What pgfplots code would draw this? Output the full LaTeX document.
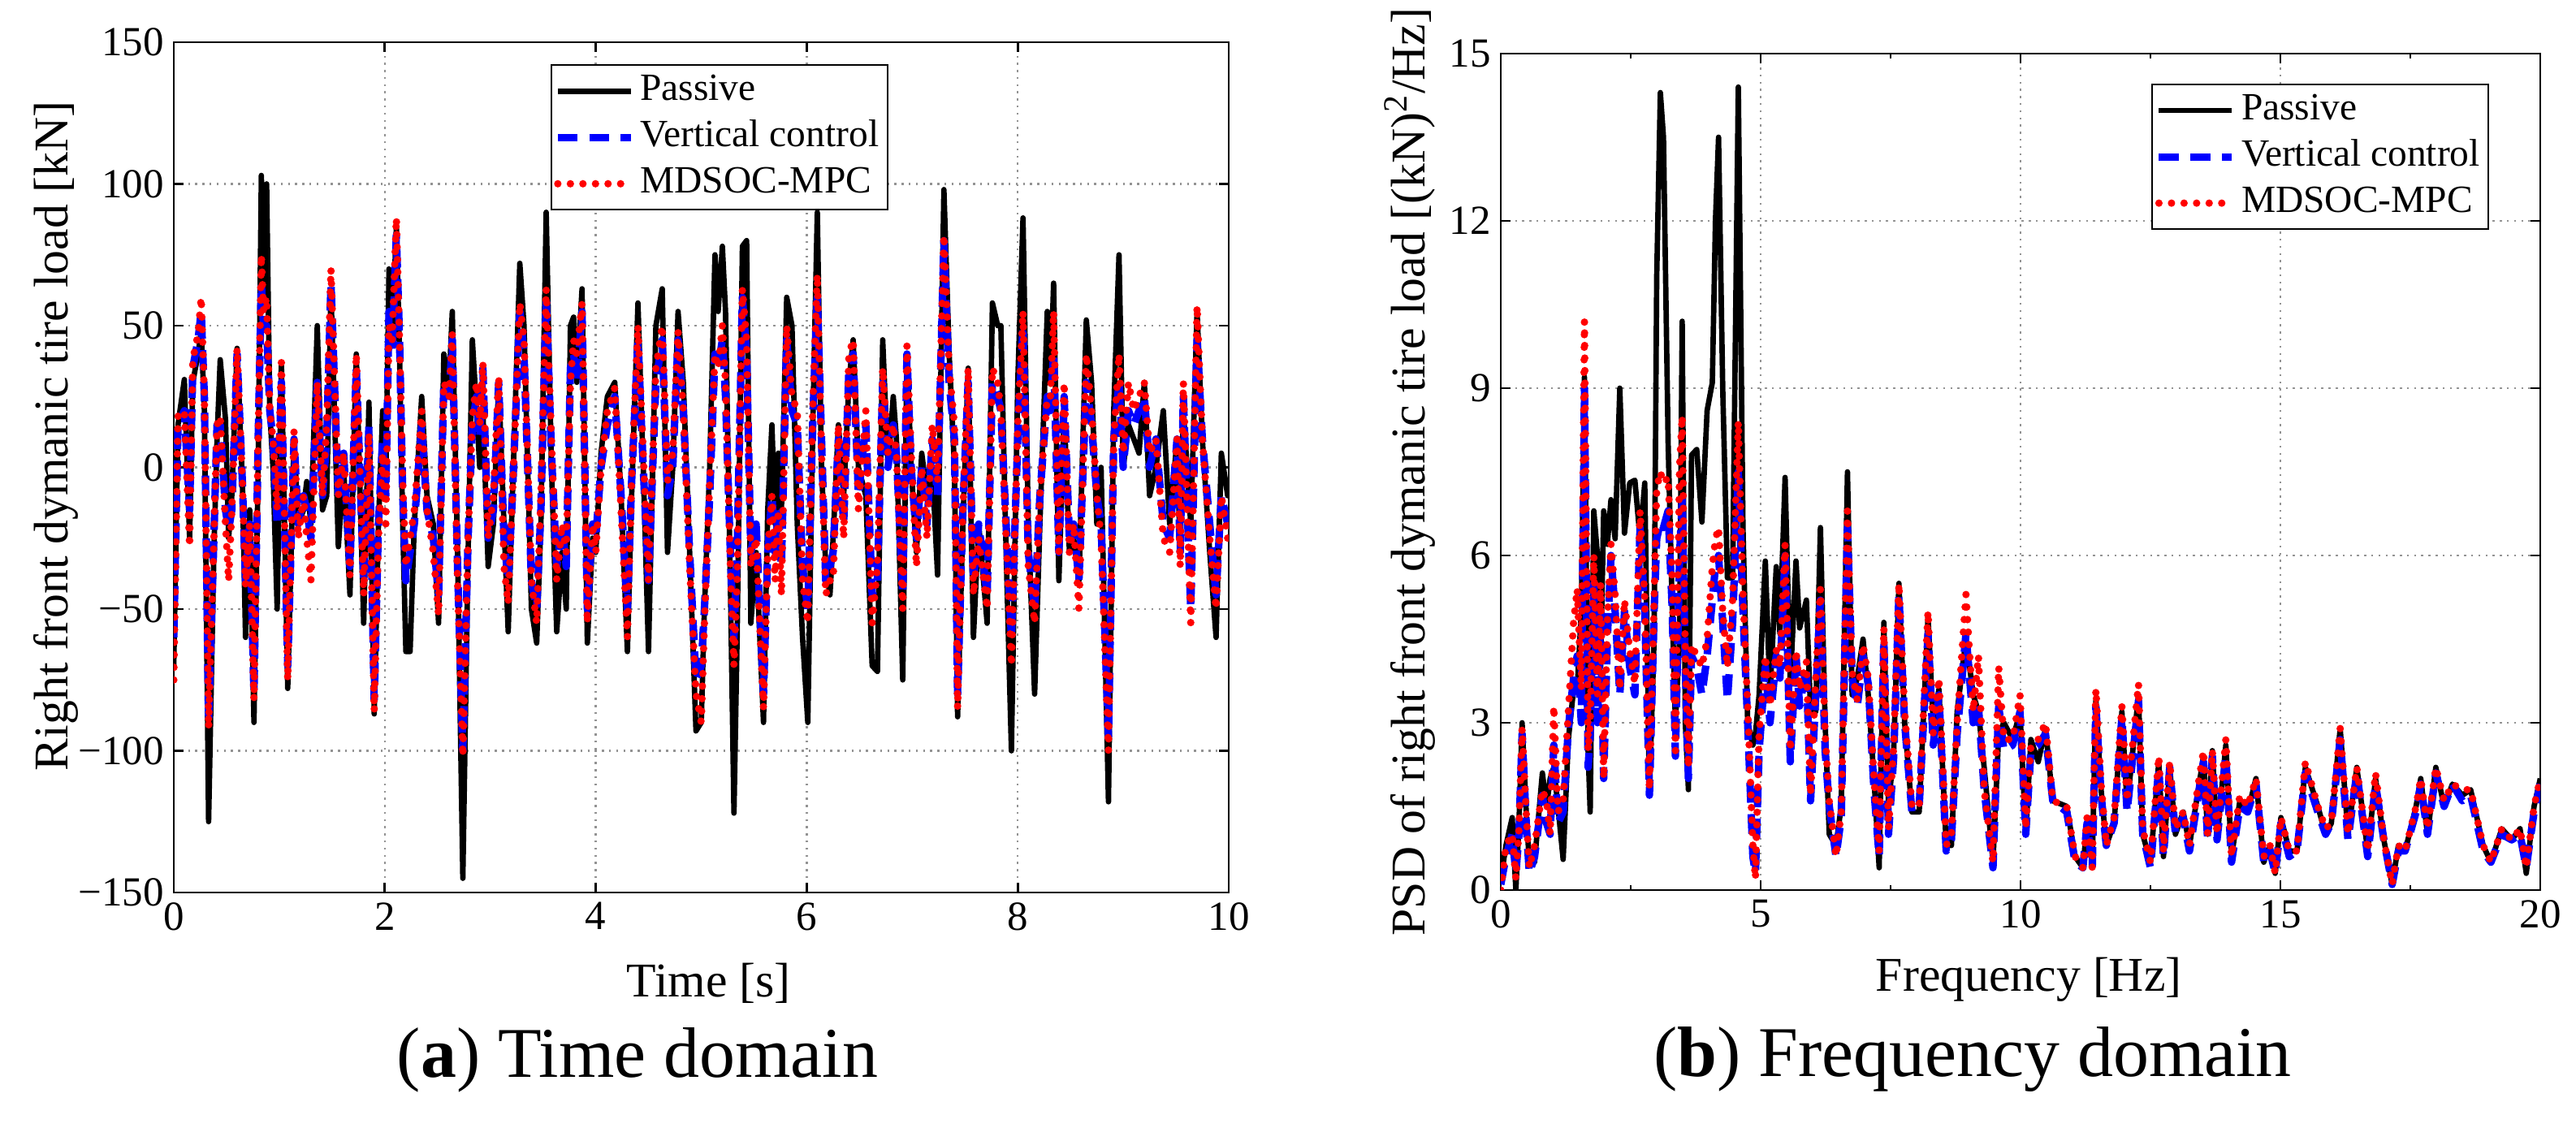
\documentclass[border=0pt]{standalone}
\usepackage{fontspec}
\setmainfont{Liberation Serif}
\usepackage{pgfplots}
\usepackage{pgfplotstable}
\pgfplotsset{compat=1.18}

\definecolor{vblue}{RGB}{0,0,255}
\definecolor{mred}{RGB}{255,0,0}

% time domain: t [s], passive, vertical control, MDSOC-MPC [kN]
\pgfplotstableread{
t pas ver mpc
0.00 -70 -60 -75
0.04 15 15 18
0.10 31 20 20
0.15 -25 -15 -28
0.18 30 35 38
0.23 40 45 47
0.26 48 55 60
0.29 20 25 25
0.33 -125 -90 -92
0.38 -30 -25 -25
0.41 10 15 15
0.44 38 15 18
0.49 17 -15 -20
0.52 -25 -22 -40
0.55 -10 -15 -15
0.60 42 40 42
0.65 -5 -5 -5
0.68 -60 -40 -42
0.72 -15 -20 -20
0.76 -90 -80 -82
0.80 0 10 10
0.83 103 65 75
0.85 60 50 55
0.88 100 50 60
0.91 20 20 20
0.94 0 10 10
0.98 -50 -20 -15
1.02 37 30 37
1.08 -78 -70 -75
1.14 10 10 13
1.18 -20 -20 -25
1.23 -15 -10 -10
1.26 -5 -15 -25
1.30 -20 -25 -40
1.36 50 30 30
1.41 -15 -10 -10
1.45 -10 10 15
1.49 62 65 70
1.56 -28 -10 -10
1.61 0 5 5
1.67 -45 -35 -38
1.73 40 35 40
1.80 -55 -40 -45
1.85 23 15 12
1.90 -87 -82 -86
1.94 -20 -20 -25
1.98 20 10 5
2.01 -5 -10 -20
2.04 70 55 50
2.07 45 40 45
2.11 85 82 88
2.14 40 45 45
2.17 -20 -10 -5
2.20 -65 -40 -35
2.24 -65 -30 -25
2.28 -20 -20 -15
2.35 25 15 20
2.40 -10 -15 -15
2.46 -20 -25 -30
2.51 -55 -45 -52
2.56 40 30 30
2.61 30 25 25
2.64 55 45 47
2.69 -30 -35 -40
2.74 -145 -100 -102
2.79 -30 -25 -25
2.83 45 15 18
2.87 20 25 30
2.90 0 10 15
2.93 20 35 37
2.98 -35 -25 -25
3.03 -20 -15 -10
3.08 30 30 32
3.13 -20 -25 -35
3.17 -58 -40 -48
3.21 -10 -10 -10
3.28 72 55 58
3.32 50 40 45
3.39 -50 -40 -40
3.44 -62 -50 -55
3.48 -20 -15 -10
3.53 90 60 63
3.58 0 5 10
3.63 -58 -35 -40
3.68 -30 -20 -20
3.72 -50 -35 -30
3.76 50 35 30
3.79 53 40 45
3.82 30 30 40
3.87 63 55 58
3.92 -62 -50 -55
3.97 -25 -20 -20
4.00 -30 -25 -30
4.05 5 0 0
4.11 25 15 20
4.18 30 25 28
4.24 -10 -10 -15
4.30 -65 -50 -60
4.34 -10 -5 -5
4.40 58 45 50
4.45 0 0 5
4.50 -65 -40 -40
4.57 50 30 35
4.63 63 45 50
4.68 -30 -10 -5
4.73 0 0 5
4.78 55 45 48
4.83 30 20 20
4.89 -30 -30 -35
4.95 -93 -75 -80
5.00 -90 -70 -90
5.03 -50 -50 -55
5.08 0 -10 -5
5.13 75 40 40
5.16 55 35 35
5.20 78 45 50
5.23 55 25 30
5.28 -50 -35 -40
5.31 -122 -60 -70
5.34 -60 -30 -40
5.39 78 60 63
5.43 80 40 45
5.47 -55 -30 -35
5.52 -30 -20 -25
5.59 -90 -80 -85
5.63 -15 -30 -30
5.67 15 -10 -10
5.70 -20 -30 -40
5.73 5 -15 -15
5.76 -15 -35 -45
5.81 60 45 50
5.86 50 20 25
5.91 -20 15 20
5.96 -60 -35 -40
6.01 -90 -50 -55
6.06 20 20 25
6.10 90 60 68
6.14 0 10 5
6.18 -35 -40 -45
6.22 -45 -35 -40
6.25 -25 -30 -40
6.30 15 10 15
6.35 -10 -20 -25
6.40 30 35 40
6.44 45 40 45
6.49 0 -10 -15
6.56 -10 15 20
6.62 -70 -45 -55
6.67 -72 -40 -35
6.72 45 30 35
6.77 0 0 5
6.82 25 15 15
6.85 10 5 5
6.91 -75 -45 -50
6.95 40 40 43
6.99 0 0 5
7.04 -30 -25 -35
7.09 5 0 0
7.14 -10 -20 -25
7.19 0 10 15
7.24 -38 -10 -5
7.30 98 80 82
7.35 40 30 35
7.40 0 10 15
7.43 -88 -80 -85
7.48 -20 -15 -15
7.53 35 30 35
7.58 -60 -40 -45
7.63 -20 -20 -25
7.71 -55 -45 -50
7.76 58 30 35
7.81 50 25 30
7.84 50 20 20
7.89 -30 -20 -25
7.94 -100 -60 -70
8.00 30 10 15
8.05 88 50 55
8.10 -20 -30 -35
8.16 -80 -50 -55
8.21 -20 -10 -10
8.28 55 25 25
8.31 30 20 25
8.34 65 40 55
8.39 -40 -30 -30
8.44 20 25 30
8.49 -30 -25 -30
8.53 -25 -20 -20
8.58 -40 -40 -50
8.65 52 30 40
8.70 30 15 20
8.75 -20 -10 -10
8.79 0 -20 -25
8.86 -118 -95 -100
8.91 20 10 10
8.96 75 30 40
9.00 0 0 5
9.05 15 20 30
9.10 10 15 20
9.15 5 20 25
9.20 30 25 30
9.25 -10 0 5
9.31 0 10 10
9.38 20 -20 -25
9.44 -20 -25 -30
9.51 10 10 10
9.54 -30 -30 -35
9.57 20 25 30
9.64 -20 -50 -55
9.70 55 45 57
9.75 10 10 10
9.82 -30 -20 -25
9.88 -60 -45 -50
9.93 5 -10 -10
9.99 -10 -20 -25
10.00 -5 -15 -20
}\timedata

% frequency domain: f [Hz], PSD [(kN)^2/Hz]
\pgfplotstableread{
f pas ver mpc
0.00 0.2 0.1 0.0
0.10 0.8 0.6 0.8
0.22 1.3 1.0 1.0
0.29 0.0 0.3 0.2
0.35 1.2 1.0 1.1
0.41 3.0 2.8 2.9
0.50 1.2 1.0 1.2
0.55 0.5 0.3 0.4
0.65 0.5 0.6 0.8
0.80 2.1 1.7 1.8
0.88 1.5 1.2 1.6
0.95 2.0 1.0 1.0
1.02 2.2 2.6 3.3
1.10 1.5 1.2 1.4
1.20 0.55 1.4 1.6
1.30 2.7 2.9 3.2
1.40 3.6 3.8 4.8
1.47 3.6 4.2 5.4
1.55 5.0 3.0 3.6
1.61 9.2 9.0 10.2
1.68 2.5 2.2 2.5
1.72 1.4 2.8 3.0
1.79 6.8 5.5 6.0
1.86 6.0 3.0 3.5
1.92 4.0 5.0 5.5
1.98 6.8 2.0 2.0
2.05 6.2 4.5 4.8
2.12 7.0 6.0 6.2
2.20 6.3 5.0 5.3
2.29 9.0 3.5 3.6
2.38 6.4 5.0 5.2
2.48 7.3 4.0 4.3
2.58 7.35 3.5 3.7
2.68 6.3 6.5 6.8
2.77 7.3 5.0 5.2
2.86 1.7 1.7 1.8
2.95 4.5 5.0 5.2
3.00 11.0 6.3 7.2
3.07 14.3 6.6 7.5
3.13 13.5 6.5 7.3
3.22 8.0 6.8 7.4
3.30 5.0 5.0 5.5
3.36 3.0 2.4 2.5
3.44 4.5 6.0 7.6
3.49 10.2 7.0 8.5
3.55 3.0 4.0 4.2
3.61 1.8 2.0 2.2
3.67 7.8 4.2 4.4
3.77 7.9 4.0 4.2
3.87 6.6 3.5 4.0
3.97 8.6 4.2 4.5
4.07 9.1 5.2 5.8
4.13 12.0 5.8 6.3
4.19 13.5 6.0 6.5
4.27 9.0 4.8 5.0
4.36 5.6 3.4 4.0
4.46 5.6 4.8 5.2
4.57 14.4 7.5 8.4
4.66 6.5 5.0 5.3
4.75 3.0 3.0 3.3
4.85 2.6 0.6 0.8
4.90 2.8 0.3 0.2
4.97 3.5 2.5 2.8
5.09 5.9 4.0 4.2
5.18 3.5 3.0 3.3
5.30 5.8 4.2 4.3
5.37 4.6 3.8 4.0
5.47 7.4 6.0 6.2
5.57 3.7 2.3 2.5
5.68 5.9 4.2 4.3
5.75 4.7 3.3 3.6
5.88 5.2 4.0 4.1
5.96 3.2 1.6 1.7
6.06 3.2 3.5 3.8
6.15 6.5 5.2 5.4
6.24 3.0 2.5 2.8
6.32 1.0 1.5 1.6
6.45 0.8 0.6 0.6
6.55 1.5 1.3 1.4
6.67 7.5 6.5 6.8
6.76 3.5 3.8 3.9
6.86 3.8 3.3 3.4
6.97 4.5 4.2 4.4
7.07 3.5 3.7 3.8
7.18 2.0 1.8 2.0
7.28 0.4 0.6 0.7
7.37 4.8 4.5 4.7
7.46 1.5 1.0 1.1
7.56 2.5 2.4 2.6
7.66 5.5 5.3 5.5
7.77 3.0 3.0 3.2
7.91 1.4 1.4 1.5
8.05 1.4 1.5 1.5
8.22 4.9 4.6 5.0
8.32 3.0 2.6 2.8
8.43 3.6 3.5 3.8
8.57 0.8 0.7 0.8
8.67 0.8 0.9 1.0
8.78 3.2 2.8 3.0
8.95 4.5 4.6 5.3
9.09 3.5 3.0 3.2
9.19 3.2 3.3 4.2
9.30 2.2 1.8 1.8
9.47 0.5 0.4 0.5
9.58 2.8 3.3 4.0
9.68 3.0 2.5 2.7
9.85 2.7 2.6 2.7
9.99 3.2 3.2 3.5
10.10 1.0 1.0 1.1
10.20 2.7 2.5 2.6
10.34 2.3 2.6 2.7
10.48 2.9 2.8 3.0
10.62 1.6 1.6 1.6
10.89 1.5 1.4 1.5
11.05 0.6 0.5 0.6
11.20 0.4 0.4 0.4
11.28 1.2 1.2 1.3
11.38 0.5 0.4 0.4
11.45 3.4 3.3 3.6
11.55 1.8 1.7 1.9
11.65 0.8 0.8 0.8
11.80 1.2 1.2 1.3
11.95 3.2 3.1 3.3
12.05 1.5 1.4 1.6
12.27 3.5 3.4 3.7
12.35 1.0 1.0 1.1
12.50 0.5 0.4 0.5
12.66 2.3 2.2 2.4
12.75 0.6 0.6 0.7
12.87 2.2 2.2 2.3
12.98 1.0 1.0 1.1
13.13 1.4 1.3 1.4
13.25 0.8 0.7 0.8
13.42 1.8 1.7 1.9
13.52 2.4 2.3 2.5
13.60 1.0 0.9 1.0
13.69 2.5 2.4 2.5
13.78 0.9 0.9 1.0
13.95 2.6 2.4 2.7
14.06 0.6 0.5 0.6
14.22 1.6 1.5 1.7
14.37 1.4 1.4 1.5
14.53 2.0 1.9 2.0
14.68 0.5 0.5 0.6
14.80 0.8 0.7 0.8
14.90 0.3 0.3 0.3
15.01 1.3 1.2 1.3
15.17 0.7 0.6 0.7
15.32 0.7 0.7 0.7
15.48 2.2 2.1 2.3
15.72 1.5 1.4 1.5
15.87 1.0 1.0 1.1
15.98 1.2 1.2 1.2
16.15 2.9 2.7 2.9
16.30 1.0 0.9 1.0
16.47 2.2 2.1 2.2
16.68 0.7 0.6 0.7
16.83 2.0 1.9 2.1
16.99 0.9 0.9 0.9
17.15 0.1 0.1 0.1
17.27 0.8 0.7 0.8
17.40 0.7 0.7 0.7
17.61 1.5 1.4 1.5
17.70 2.0 1.9 2.0
17.83 1.0 1.0 1.1
17.99 2.2 2.1 2.2
18.15 1.5 1.5 1.6
18.31 1.9 1.9 1.9
18.50 1.7 1.6 1.8
18.66 1.8 1.7 1.8
18.90 0.8 0.7 0.8
19.05 0.5 0.5 0.5
19.26 1.1 1.0 1.1
19.45 0.9 0.9 0.9
19.61 1.1 1.0 1.1
19.73 0.3 0.4 0.4
19.88 1.5 1.4 1.5
20.00 2.0 1.9 2.0
}\psddata

\pgfplotsset{
  matlab/.style={
    scale only axis,
    axis line style={line width=0.8pt},
    every tick/.style={black, line width=0.8pt},
    tick align=inside,
    major tick length=0.12cm,
    minor tick length=0.06cm,
    grid=major,
    major grid style={gray!85, line width=0.7pt, dash pattern=on 0.7pt off 1.8pt},
    tick label style={font=\fontsize{14.5}{16}\selectfont},
    label style={font=\fontsize{17}{20}\selectfont},
    /pgf/number format/assume math mode=true,
    legend cell align=left,
    legend style={draw=black, line width=0.6pt, font=\fontsize{13.5}{15}\selectfont,
      inner xsep=1pt, inner ysep=1pt,
      nodes={text height=0.33cm, text depth=0.1cm, inner sep=0.07cm}},
    legend image code/.code={\draw[#1] (0cm,0cm) -- (0.9cm,0cm);},
  },
  passive/.style={black, line width=1.9pt, line join=round},
  vertical/.style={vblue, line width=2.6pt, line join=round, dash pattern=on 7pt off 4pt},
  mdsoc/.style={mred, line width=2.6pt, line cap=round, line join=round, dash pattern=on 0pt off 4.4pt},
}

\begin{document}
\begin{tikzpicture}
\useasboundingbox (0,0) rectangle (31.72cm,13.89cm);

\begin{axis}[matlab,
  at={(2.14cm,2.90cm)}, anchor=south west,
  width=12.99cm, height=10.47cm,
  xmin=0, xmax=10, ymin=-150, ymax=150,
  xtick={0,2,4,6,8,10}, xticklabels={0,2,4,6,8,10},
  ytick={-150,-100,-50,0,50,100,150},
  yticklabels={−150,−100,−50,0,50,100,150},
  xlabel={Time [s]},
  ylabel={Right front dymanic tire load [kN]},
  xlabel style={at={(axis description cs:0.507,-0.123)}, anchor=base},
  ylabel style={at={(axis description cs:-0.1008,0.537)}, anchor=base},
  legend style={at={(rel axis cs:0.357,0.974)}, anchor=north west},
]
\addplot[passive] table[x=t, y=pas] {\timedata};
\addplot[vertical] table[x=t, y=ver] {\timedata};
\addplot[mdsoc] table[x=t, y=mpc] {\timedata};
\legend{Passive, Vertical control, MDSOC-MPC}
\end{axis}

\begin{axis}[matlab,
  at={(18.48cm,2.93cm)}, anchor=south west,
  width=12.80cm, height=10.30cm,
  xmin=0, xmax=20, ymin=0, ymax=15,
  xtick={0,5,10,15,20}, xticklabels={0,5,10,15,20},
  minor xtick={2.5,7.5,12.5,17.5},
  ytick={0,3,6,9,12,15}, yticklabels={0,3,6,9,12,15},
  xlabel={Frequency [Hz]},
  ylabel={PSD of right front dymanic tire load [(kN)\textsuperscript{2}/Hz]},
  xlabel style={at={(axis description cs:0.508,-0.121)}, anchor=base},
  ylabel style={at={(axis description cs:-0.0727,0.5)}, anchor=base},
  legend style={at={(rel axis cs:0.626,0.964)}, anchor=north west},
]
\addplot[passive] table[x=f, y=pas] {\psddata};
\addplot[vertical] table[x=f, y=ver] {\psddata};
\addplot[mdsoc] table[x=f, y=mpc] {\psddata};
\legend{Passive, Vertical control, MDSOC-MPC}
\end{axis}

\node[font=\fontsize{25}{30}\selectfont] at (7.85cm,0.84cm) {(\textbf{a}) Time domain};
\node[font=\fontsize{25}{30}\selectfont] at (24.29cm,0.84cm) {(\textbf{b}) Frequency domain};
\end{tikzpicture}
\end{document}
